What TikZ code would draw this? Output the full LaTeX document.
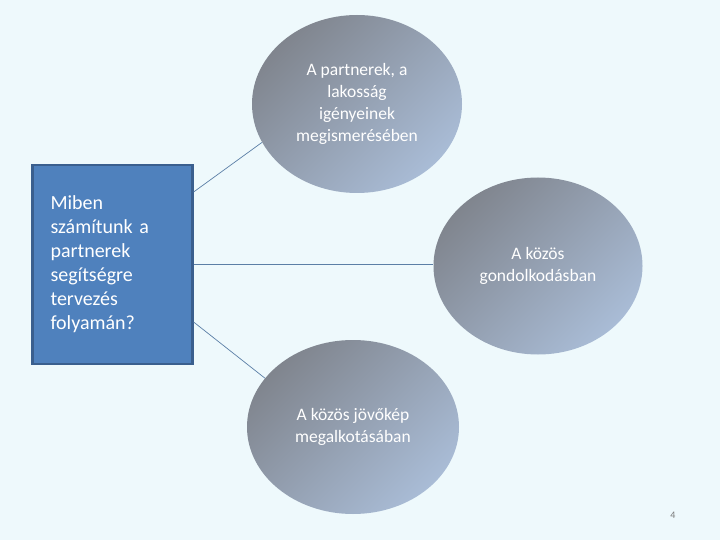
\documentclass[tikz,border=0pt]{standalone}
\usepackage{fontspec}
\setmainfont{Carlito}
\usetikzlibrary{shapes.geometric}
\definecolor{bgc}{HTML}{EEF9FC}
\definecolor{boxfill}{HTML}{4F81BD}
\definecolor{boxedge}{HTML}{3A5F8E}
\definecolor{ellA}{HTML}{80858E}
\definecolor{ellB}{HTML}{A9BCD6}
\definecolor{linkc}{HTML}{5B7FA6}
\definecolor{numc}{HTML}{7A7A7A}
\tikzset{
  qbox/.style={draw=boxedge, line width=2.2pt, fill=boxfill, minimum width=160pt, minimum height=199pt,
    text width=124pt, align=left, inner sep=0pt, text=white,
    font=\fontsize{20pt}{24pt}\selectfont},
  bubble/.style={ellipse, inner sep=0pt, top color=ellA, bottom color=ellB, shading angle=45,
    text=white, align=center, font=\fontsize{17.5pt}{22pt}\selectfont},
  link/.style={draw=linkc, line width=0.7pt}
}
\begin{document}
\begin{tikzpicture}[x=1pt,y=-1pt]
\fill[bgc] (0,0) rectangle (720,540);
\useasboundingbox (0,0) rectangle (720,540);
\node[qbox] (box) at (112.5,264.5) {Miben\\számítunk a\\partnerek\\segítségre\\tervezés\\folyamán?};
\node[bubble, minimum width=210pt, minimum height=178pt] (e1) at (357,104) {A partnerek, a\\lakosság\\igényeinek\\megismerésében};
\node[bubble, minimum width=209pt, minimum height=177pt] (e2) at (538,266) {A közös\\gondolkodásban};
\node[bubble, minimum width=212pt, minimum height=174pt] (e3) at (353,427) {A közös jövőkép\\megalkotásában};
\node[text=numc, font=\fontsize{10pt}{12pt}\selectfont] (num) at (673,515) {4};
\coordinate (s1) at ([yshift=72.5pt]box.east);
\coordinate (s2) at (box.east);
\coordinate (s3) at ([yshift=-57.5pt]box.east);
\draw[link] (s1) -- (e1.202);
\draw[link] (s2) -- (e2.west |- s2);
\draw[link] (s3) -- (e3.151);
\end{tikzpicture}
\end{document}
